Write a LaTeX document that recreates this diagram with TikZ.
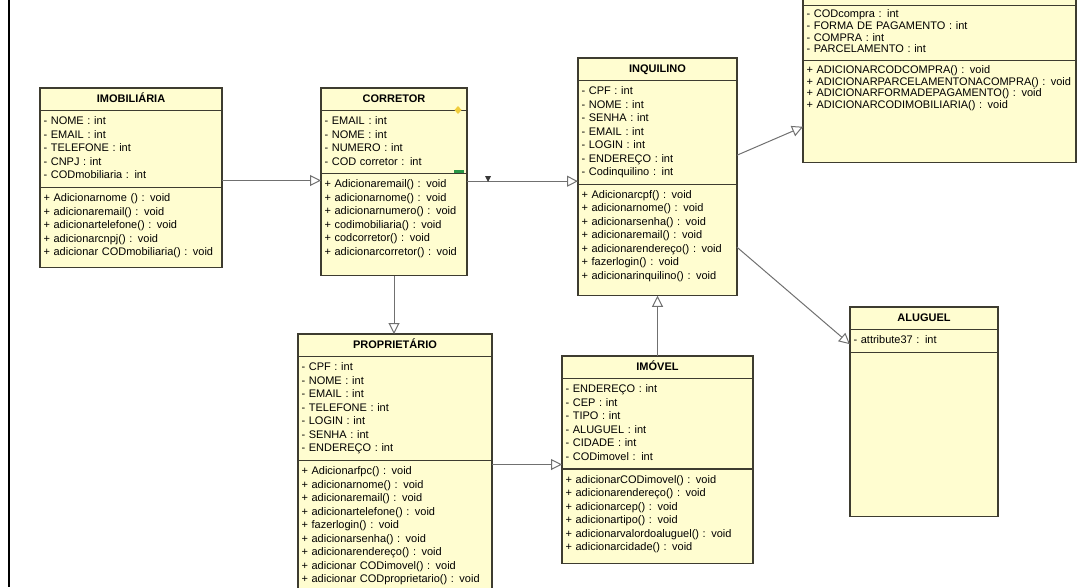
\documentclass[tikz,border=0pt]{standalone}
\usepackage{fontspec}
\setmainfont{Liberation Sans}
\usepackage{xcolor}
\usetikzlibrary{shapes.multipart,arrows.meta}

\setlength{\parindent}{0pt}

\definecolor{classfill}{RGB}{255,253,208}
\definecolor{classline}{RGB}{62,60,48}
\definecolor{linkgray}{RGB}{112,112,112}
\definecolor{markyellow}{RGB}{240,205,60}
\definecolor{markgreen}{RGB}{40,150,70}

\newcommand{\members}[1]{\begin{tabular}{@{}l@{}}#1\end{tabular}}
\newcommand{\classtitle}[1]{\makebox[\hsize][c]{\members{\textbf{#1}}}}
\newcommand{\lowpad}[1]{\rule[-#1]{0pt}{#1}}

\tikzset{
	umlclass/.style={rectangle split, rectangle split parts=3, align=left,
		draw=classline, fill=classfill, line width=1.1pt,
		inner xsep=3.5pt, inner ysep=4pt, outer sep=0pt,
		anchor=north west, font=\fontsize{11}{13.5}\selectfont},
	generalization/.style={draw=linkgray, line width=1pt,
		-{Triangle[open,length=11pt,width=11pt]}}
}

\begin{document}
\begin{tikzpicture}[x=1pt,y=-1pt]
			\useasboundingbox (0,0) rectangle (1081,587);
			\clip (0,0) rectangle (1081,587);
			\draw[line width=1.5pt] (9,0) -- (9,587);

			\node[umlclass, text width=175pt] (imob) at (40,88)
			{
				\classtitle{IMOBILIÁRIA}
				\nodepart{two}
				\members{- NOME : int\\ - EMAIL : int\\ - TELEFONE : int\\ - CNPJ : int\\ - CODmobiliaria : int}
				\nodepart{three}
				\members{+ Adicionarnome () : void\\ + adicionaremail() : void\\ + adicionartelefone() : void\\
					+ adicionarcnpj() : void\\ + adicionar CODmobiliaria() : void\lowpad{7.5pt}}
			};
			\node[umlclass, text width=139pt] (corretor) at (321,88)
			{
				\classtitle{CORRETOR}
				\nodepart{two}
				\members{- EMAIL : int\\ - NOME : int\\ - NUMERO : int\\ - COD corretor : int}
				\nodepart{three}
				\members{+ Adicionaremail() : void\\ + adicionarnome() : void\\ + adicionarnumero() : void\\
					+ codimobiliaria() : void\\ + codcorretor() : void\\ + adicionarcorretor() : void\lowpad{16pt}}
			};
			\node[umlclass, text width=152pt] (inquilino) at (578,58)
			{
				\classtitle{INQUILINO}
				\nodepart{two}
				\members{- CPF : int\\ - NOME : int\\ - SENHA : int\\ - EMAIL : int\\ - LOGIN : int\\
					- ENDEREÇO : int\\ - Codinquilino : int}
				\nodepart{three}
				\members{+ Adicionarcpf() : void\\ + adicionarnome() : void\\ + adicionarsenha() : void\\
					+ adicionaremail() : void\\ + adicionarendereço() : void\\ + fazerlogin() : void\\
					+ adicionarinquilino() : void\lowpad{12pt}}
			};
			\node[umlclass, text width=266pt, font=\fontsize{11}{11.6}\selectfont] (compra) at (803,-6.6)
			{
				\members{}
				\nodepart{two}
				\members{- CODcompra : int\\ - FORMA DE PAGAMENTO : int\\ - COMPRA : int\\ - PARCELAMENTO : int}
				\nodepart{three}
				\members{+ ADICIONARCODCOMPRA() : void\\ + ADICIONARPARCELAMENTONACOMPRA() : void\\
					+ ADICIONARFORMADEPAGAMENTO() : void\\ + ADICIONARCODIMOBILIARIA() : void\lowpad{50pt}}
			};
			\node[umlclass, text width=141pt] (aluguel) at (850,307)
			{
				\classtitle{ALUGUEL}
				\nodepart{two}
				\members{- attribute37 : int}
				\nodepart{three}
				\rule{0pt}{155pt}
			};
			\node[umlclass, text width=187pt] (propr) at (298,334)
			{
				\classtitle{PROPRIETÁRIO}
				\nodepart{two}
				\members{- CPF : int\\ - NOME : int\\ - EMAIL : int\\ - TELEFONE : int\\ - LOGIN : int\\
					- SENHA : int\\ - ENDEREÇO : int}
				\nodepart{three}
				\members{+ Adicionarfpc() : void\\ + adicionarnome() : void\\ + adicionaremail() : void\\
					+ adicionartelefone() : void\\ + fazerlogin() : void\\ + adicionarsenha() : void\\
					+ adicionarendereço() : void\\ + adicionar CODimovel() : void\\
					+ adicionar CODproprietario() : void\lowpad{8pt}}
			};
			\node[umlclass, text width=184pt] (imovel) at (562,356)
			{
				\classtitle{IMÓVEL}
				\nodepart{two}
				\members{- ENDEREÇO : int\\ - CEP : int\\ - TIPO : int\\ - ALUGUEL : int\\ - CIDADE : int\\
					- CODimovel : int}
				\nodepart{three}
				\members{+ adicionarCODimovel() : void\\ + adicionarendereço() : void\\ + adicionarcep() : void\\
					+ adicionartipo() : void\\ + adicionarvalordoaluguel() : void\\
					+ adicionarcidade() : void\lowpad{8pt}}
			};

			\coordinate (imobout) at ([yshift=7pt]imob.two split east);
			\coordinate (corrout) at ([yshift=-7.5pt]corretor.two split east);
			\coordinate (propout) at ([yshift=-4pt]propr.two split east);
			\coordinate (inqup) at ([yshift=29pt]inquilino.two split east);
			\coordinate (inqdown) at ([yshift=-63pt]inquilino.two split east);
			\coordinate (comprain) at ([yshift=-66pt]compra.two split west);
			\coordinate (aluguelin) at ([yshift=8pt]aluguel.two split west);

			\draw[generalization] (imobout) -- (imobout -| corretor.west);
			\draw[generalization] (corrout) -- (corrout -| inquilino.west);
			\draw[generalization] (corretor.south) -- (corretor.south |- propr.north);
			\draw[generalization] (propout) -- (propout -| imovel.west);
			\draw[generalization] (imovel.north) -- (inquilino.south);
			\draw[generalization] (inqup) -- (comprain);
			\draw[generalization] (inqdown) -- (aluguelin);

			\fill[linkgray!50!black] (485,176) -- (491,176) -- (488,182) -- cycle;
			\fill[markyellow] (458,106) -- (461.5,110) -- (458,114) -- (454.5,110) -- cycle;
			\fill[markgreen] (454,169.5) rectangle (464,172.5);
		\end{tikzpicture}
\end{document}
